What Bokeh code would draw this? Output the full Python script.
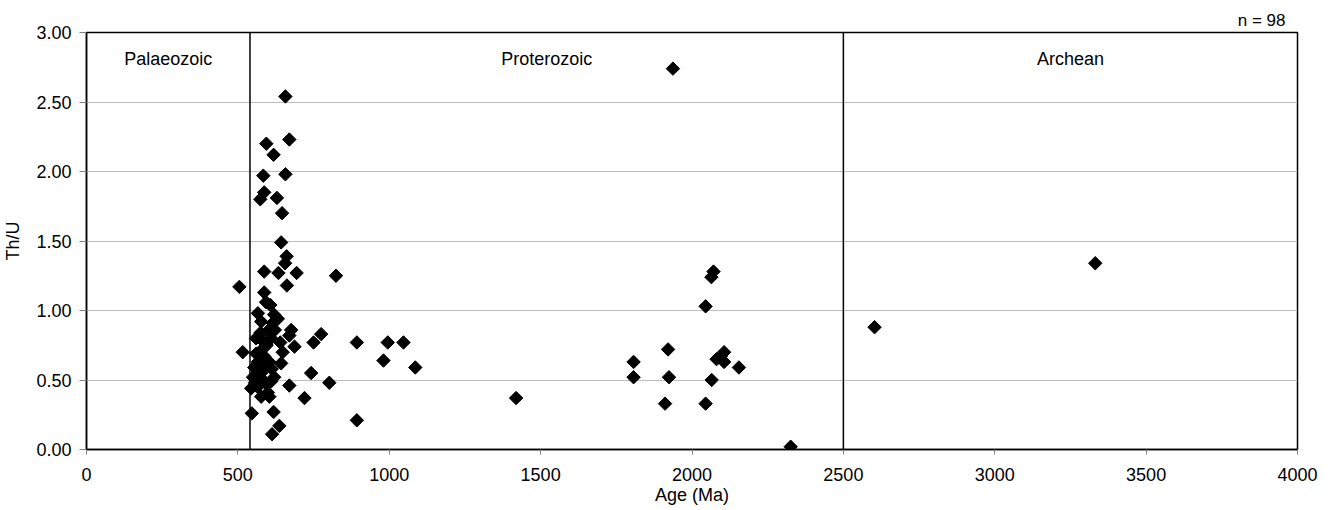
import math
from bokeh.plotting import figure
from bokeh.models import Range1d, FixedTicker, NumeralTickFormatter, Span, ColumnDataSource, Title
from bokeh.core.properties import value
from bokeh.embed import file_html
from bokeh.resources import INLINE

# ---- data ----
ages = [
    505, 516,
    657, 670, 594, 618, 584, 657, 587, 574, 629, 646, 643, 661, 656, 587, 634, 694, 824,
    662, 587, 593, 607, 566, 620, 632, 676, 670, 775, 750, 893, 687, 560, 640, 648, 643,
    742, 802, 670, 720, 544, 577, 604, 546, 618, 637, 613, 893,
    577, 615, 587, 560, 587, 604, 571, 554, 577, 620, 599, 550, 556, 565, 583, 595, 610,
    566, 580, 595, 610, 598, 622, 575, 590, 612,
    995, 1047, 981, 1086, 1419,
    2071, 2064, 2045, 1921, 1807, 1807, 1924, 2065, 1911, 2045, 2106, 2081, 2106, 2095, 2155,
    1937, 2326, 2603, 3332,
]
th_u = [
    1.17, 0.70,
    2.54, 2.23, 2.20, 2.12, 1.97, 1.98, 1.85, 1.80, 1.81, 1.70, 1.49, 1.39, 1.34, 1.28, 1.27, 1.27, 1.25,
    1.18, 1.13, 1.06, 1.04, 0.98, 0.97, 0.94, 0.86, 0.82, 0.83, 0.77, 0.77, 0.74, 0.80, 0.77, 0.70, 0.62,
    0.55, 0.48, 0.46, 0.37, 0.44, 0.38, 0.38, 0.26, 0.27, 0.17, 0.11, 0.21,
    0.92, 0.91, 0.77, 0.69, 0.67, 0.63, 0.59, 0.59, 0.55, 0.52, 0.41, 0.52, 0.48, 0.45, 0.50, 0.47, 0.49,
    0.63, 0.72, 0.75, 0.80, 0.85, 0.86, 0.84, 0.60, 0.58,
    0.77, 0.77, 0.64, 0.59, 0.37,
    1.28, 1.24, 1.03, 0.72, 0.63, 0.52, 0.52, 0.50, 0.33, 0.33, 0.70, 0.65, 0.63, 0.67, 0.59,
    2.74, 0.02, 0.88, 1.34,
]
era_names = ["Palaeozoic", "Proterozoic", "Archean"]
era_edges = [0, 540, 2500, 4000]
x_ticks = [0, 500, 1000, 1500, 2000, 2500, 3000, 3500, 4000]
y_ticks = [0.0, 0.5, 1.0, 1.5, 2.0, 2.5, 3.0]

FONT = "Liberation Sans"

p = figure(width=1327, height=508, output_backend="svg", toolbar_location=None,
           x_range=Range1d(0, 4000), y_range=Range1d(0, 3), title=None)
p.min_border_left = 85
p.min_border_right = 30
p.min_border_top = 32
p.min_border_bottom = 59

p.background_fill_color = "white"
p.border_fill_color = "white"
p.outline_line_color = "black"
p.outline_line_width = 1.5

p.xgrid.visible = False
p.ygrid.ticker = FixedTicker(ticks=y_ticks)
p.ygrid.grid_line_color = "#bdbdbd"
p.ygrid.grid_line_width = 1

p.xaxis.ticker = FixedTicker(ticks=x_ticks)
p.xaxis.formatter = NumeralTickFormatter(format="0")
p.yaxis.ticker = FixedTicker(ticks=y_ticks)
p.yaxis.formatter = NumeralTickFormatter(format="0.00")

for ax in (p.xaxis[0], p.yaxis[0]):
    ax.axis_line_color = "black"
    ax.axis_line_width = 1.5
    ax.major_tick_line_color = "#808080"
    ax.minor_tick_line_color = None
    ax.major_tick_in = 0
    ax.major_label_text_font = FONT
    ax.major_label_text_font_size = "18px"
    ax.major_label_text_color = "black"
    ax.axis_label_text_font = FONT
    ax.axis_label_text_font_size = "18px"
    ax.axis_label_text_font_style = "normal"
    ax.axis_label_text_color = "black"

p.xaxis.major_tick_out = 5
p.yaxis.major_tick_out = 7
p.xaxis.axis_label = "Age (Ma)"
p.yaxis.axis_label = "Th/U"
p.xaxis.major_label_standoff = 13
p.xaxis.axis_label_standoff = 1
p.yaxis.major_label_standoff = 8
p.yaxis.axis_label_standoff = 10

for b in era_edges[1:-1]:
    p.add_layout(Span(location=b, dimension="height", line_color="black", line_width=1.5))

mids = [(era_edges[i] + era_edges[i + 1]) / 2 for i in range(len(era_names))]
era_src = ColumnDataSource(dict(x=mids, y=[2.81] * len(mids), t=era_names))
p.text(x="x", y="y", text="t", source=era_src, text_align="center", text_baseline="middle",
       text_font=value(FONT), text_font_size="18px", text_color="black")

p.scatter(ages, th_u, marker="square", angle=math.pi / 4, size=9.5,
          fill_color="black", line_color="black")

p.add_layout(Title(text=f"n = {len(ages)}", align="right", offset=12, standoff=6,
                   text_font=FONT, text_font_size="17px", text_font_style="normal",
                   text_color="black"), "above")

open("out.html", "w").write(file_html(p, INLINE))
